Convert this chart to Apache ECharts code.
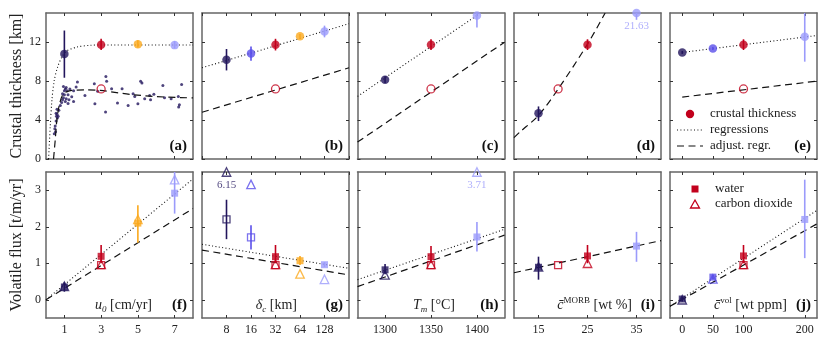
<!DOCTYPE html>
<html>
<head>
<meta charset="utf-8">
<script src="https://cdn.jsdelivr.net/npm/echarts@6/dist/echarts.min.js"></script>
<style>
html, body { margin: 0; padding: 0; background: #fff; }
#chart { width: 830px; height: 343px; }
</style>
</head>
<body>
<div id="chart"></div>
<script>
const NAVY = '#22155c', BLUE = '#5a4fea', RED = '#c2001c', ORANGE = '#fba91d', LAV = '#9b9bfb';
const FONT = '"Liberation Serif", "DejaVu Serif", serif';

// x values of the runs, one list per column
const u0Vals = [1, 3, 5, 7];
const deltaVals = [8, 16, 32, 64, 128];
const tmVals = [1300, 1350, 1400];
const morbVals = [15, 25, 35];
const cvolVals = [0, 50, 100, 200];

// (a)-(e) crustal thickness [km]
const thickU0 = [10.8, 11.75, 11.8, 11.7];
const thickU0Lo = [8.35, 11.2, 11.45, 11.35];
const thickU0Hi = [13.2, 12.35, 12.2, 12.1];
const thickDelta = [10.2, 10.85, 11.75, 12.6, 13.1];
const thickDeltaLo = [9.1, 10.1, 11.15, 12.35, 12.5];
const thickDeltaHi = [11.3, 11.55, 12.35, 12.85, 13.7];
const thickTm = [8.15, 11.75, 14.75];
const thickTmLo = [7.8, 11.2, 13.5];
const thickTmHi = [8.5, 12.3, 16.0];
const thickMorb = [4.7, 11.75, 21.63];
const thickMorbLo = [3.9, 11.2, 14.3];
const thickMorbHi = [5.4, 12.3, 29];
const thickCvol = [10.95, 11.35, 11.75, 12.55];
const thickCvolLo = [10.8, 11.2, 11.2, 10.0];
const thickCvolHi = [11.1, 11.5, 12.3, 15.1];

// adjusted reference thickness (open circles)
const adjThickX = [3, 32, 1350, 19, 100];
const adjThick = [7.2, 7.2, 7.2, 7.2, 7.2];

// (a) individual measurements
const dotsU0 = [0.45, 0.48, 0.5, 0.52, 0.55, 0.57, 0.6, 0.55, 0.62, 0.66, 0.7, 0.6, 0.78, 0.85, 0.9, 0.95, 1.0, 1.0, 1.05, 1.1,
  0.95, 1.15, 1.2, 1.1, 1.05, 1.2, 1.25, 1.4, 1.5, 1.64, 1.71, 1.5, 0.9, 1.3, 2.12, 2.63, 2.66, 2.81, 3.26, 3.3,
  3.24, 3.57, 3.89, 4.14, 4.47, 4.74, 4.83, 5.15, 5.22, 5.0, 5.37, 5.64, 5.69, 5.87, 6.36, 6.45, 6.81, 7.2, 7.26, 7.22, 7.38];
const dotsThick = [2.6, 3.1, 3.4, 2.8, 3.9, 4.4, 4.6, 4.7, 4.2, 4.4, 5.0, 5.1, 5.5, 5.8, 6.1, 6.3, 6.6, 7.0, 7.2, 7.35,
  7.45, 7.0, 6.6, 6.2, 5.9, 5.7, 6.1, 6.4, 7.0, 7.4, 7.9, 5.9, 6.7, 7.2, 6.53, 7.73, 5.68, 6.97, 8.48, 8.0,
  4.82, 7.22, 5.75, 7.22, 5.5, 6.7, 6.43, 8.0, 7.8, 5.68, 6.2, 6.53, 6.09, 6.64, 7.56, 6.3, 6.19, 6.43, 5.58, 5.33, 7.66];

// regressions, top row
const regU0X = [0.14, 0.23, 0.32, 0.45, 0.63, 0.86, 1.13, 1.68, 2.4, 3, 5, 8];
const regU0Y = [0, 3.3, 6.0, 8.07, 9.44, 10.46, 11.1, 11.5, 11.68, 11.72, 11.72, 11.72];
const adjU0X = [0.41, 0.5, 0.59, 0.74, 0.95, 1.4, 2.2, 2.94, 4.74, 6.54, 8];
const adjU0Y = [0, 1.9, 3.97, 5.68, 6.7, 7.05, 7.1, 7.05, 6.6, 6.36, 6.28];
const regDeltaX = [4, 256], regDeltaY = [9.37, 13.9];
const adjDeltaX = [4, 256], adjDeltaY = [4.8, 9.37];
const regTmX = [1270, 1400], regTmY = [6.43, 14.75];
const adjTmX = [1270, 1430], adjTmY = [1.74, 12.0];
const adjMorbX = [10, 11.2, 15, 19, 25, 28.6], adjMorbY = [2.2, 2.77, 4.48, 7.18, 11.8, 15];
const regCvolX = [0, 220], regCvolY = [10.95, 12.69];
const adjCvolX = [0, 220], adjCvolY = [6.36, 8.0];

// (f)-(j) volatile flux [t/m/yr]
const waterU0 = [0.35, 1.19, 2.1, 2.92];
const waterU0Lo = [0.22, 1.0, 1.56, 2.36];
const waterU0Hi = [0.48, 1.5, 2.59, 3.6];
const openU0X = [3], openU0 = [0.95];
const co2U0 = [0.37, 0.97, 2.2, 3.29];

const waterDeltaX = [32, 64, 128];
const waterDelta = [1.18, 1.07, 0.96];
const waterDeltaLo = [1.0, 0.95, 0.9];
const waterDeltaHi = [1.5, 1.2, 1.03];
const openDeltaX = [8, 16, 32], openDelta = [2.2, 1.71, 0.95];
const openDeltaLo = [1.66, 1.38, null], openDeltaHi = [2.74, 2.04, null];
const co2Delta = [6.15, 3.16, 0.97, 0.71, 0.56];

const waterTm = [0.82, 1.18, 1.72];
const waterTmLo = [0.7, 1.0, 1.32];
const waterTmHi = [0.98, 1.47, 2.13];
const openTmX = [1350], openTm = [0.95];
const co2Tm = [0.68, 0.97, 3.71];

const waterMorb = [0.89, 1.2, 1.47];
const waterMorbLo = [0.55, 1.0, 1.04];
const waterMorbHi = [1.18, 1.5, 1.86];
const openMorbX = [19], openMorb = [0.95];
const co2MorbX = [15, 25], co2Morb = [0.9, 1.0];

const waterCvol = [0.02, 0.62, 1.2, 2.2];
const waterCvolLo = [-0.05, 0.56, 1.0, 1.14];
const waterCvolHi = [0.08, 0.68, 1.5, 3.29];
const openCvolX = [100], openCvol = [0.95];
const co2CvolX = [0, 50, 100], co2Cvol = [0.0, 0.57, 0.97];

// regressions, bottom row
const fluxRegU0X = [0, 8], fluxRegU0Y = [0, 3.31];
const fluxAdjU0X = [0, 8], fluxAdjU0Y = [0, 2.5];
const fluxRegDeltaX = [4, 256], fluxRegDeltaY = [1.52, 0.86];
const fluxAdjDeltaX = [4, 256], fluxAdjDeltaY = [1.36, 0.68];
const fluxRegTmX = [1270, 1430], fluxRegTmY = [0.55, 1.93];
const fluxAdjTmX = [1270, 1430], fluxAdjTmY = [0.36, 1.77];
const fluxAdjMorbX = [10, 40], fluxAdjMorbY = [0.74, 1.62];
const fluxRegCvolX = [-20, 220], fluxRegCvolY = [-0.18, 2.45];
const fluxAdjCvolX = [-20, 220], fluxAdjCvolY = [-0.18, 2.08];

// ---------------- layout / styling ----------------
const colX = [u0Vals, deltaVals, tmVals, morbVals, cvolVals];
const colColors = [[NAVY, RED, ORANGE, LAV], [NAVY, BLUE, RED, ORANGE, LAV], [NAVY, RED, LAV], [NAVY, RED, LAV], [NAVY, BLUE, RED, LAV]];
function colorOf(c, x) { const i = colX[c].indexOf(x); return i >= 0 ? colColors[c][i] : RED; }

const colLeft = [46, 202, 357.5, 514, 670];
const W = 147, H = 146, rowTop = [13, 172];
const xCfg = [
  { type: 'value', min: 0, max: 8, ticks: [1, 3, 5, 7] },
  { type: 'log', logBase: 2, min: 4, max: 256 },
  { type: 'value', min: 1270, max: 1430, ticks: [1300, 1350, 1400] },
  { type: 'value', min: 10, max: 40, ticks: [15, 25, 35] },
  { type: 'value', min: -20, max: 220, ticks: [0, 50, 100, 200] }
];
const yCfg = [{ min: 0, max: 15, ticks: [0, 4, 8, 12] }, { min: -0.5, max: 3.5, ticks: [0, 1, 2, 3] }];

const grids = [], xAxes = [], yAxes = [], series = [], graphics = [];

function axisBase(gi, pos, showLabel) {
  return {
    gridIndex: gi, position: pos,
    axisLine: { show: true, onZero: false, lineStyle: { color: '#666', width: 1.5 } },
    axisTick: { show: true, inside: true, length: 3, lineStyle: { color: '#333', width: 1 } },
    axisLabel: { show: showLabel, fontFamily: FONT, fontSize: 12, color: '#222', margin: 6,
      formatter: v => String(v) },
    splitLine: { show: false }
  };
}

for (let r = 0; r < 2; r++) {
  for (let c = 0; c < 5; c++) {
    const gi = r * 5 + c;
    grids.push({ left: colLeft[c], top: rowTop[r], width: W, height: H });
    ['bottom', 'top'].forEach(pos => {
      const a = axisBase(gi, pos, pos === 'bottom' && r === 1);
      const cfg = xCfg[c];
      a.type = cfg.type; a.min = cfg.min; a.max = cfg.max;
      if (cfg.logBase) {
        a.logBase = cfg.logBase;
        a.axisLabel.showMinLabel = false; a.axisLabel.showMaxLabel = false;
      } else {
        a.axisTick.customValues = cfg.ticks;
        a.axisLabel.customValues = cfg.ticks;
      }
      xAxes.push(a);
    });
    ['left', 'right'].forEach(pos => {
      const a = axisBase(gi, pos, pos === 'left' && c === 0);
      const cfg = yCfg[r];
      a.type = 'value'; a.min = cfg.min; a.max = cfg.max;
      a.axisTick.customValues = cfg.ticks;
      a.axisLabel.customValues = cfg.ticks;
      a.axisLabel.margin = 5;
      yAxes.push(a);
    });
  }
}

function lineS(gi, xs, ys, kind, smooth) {
  series.push({
    type: 'line', xAxisIndex: 2 * gi, yAxisIndex: 2 * gi, silent: true, z: 2,
    data: xs.map((x, i) => [x, ys[i]]), showSymbol: false, symbol: 'none', smooth: smooth || false, clip: true,
    lineStyle: kind === 'dot'
      ? { color: '#111', width: 1.1, type: [1, 2.4] }
      : { color: '#111', width: 1.2, type: [7, 4.5] }
  });
}

function errS(gi, c, xs, lo, hi) {
  const data = [];
  xs.forEach((x, i) => {
    if (lo[i] == null) return;
    data.push({ value: [x, lo[i], hi[i]], itemStyle: { color: colorOf(c, x) } });
  });
  series.push({
    type: 'custom', xAxisIndex: 2 * gi, yAxisIndex: 2 * gi, silent: true, z: 3, clip: true,
    encode: { x: 0, y: [1, 2] }, data,
    renderItem: (params, api) => {
      const a = api.coord([api.value(0), api.value(1)]);
      const b = api.coord([api.value(0), api.value(2)]);
      return { type: 'line', shape: { x1: a[0], y1: a[1], x2: b[0], y2: b[1] },
        style: { stroke: api.visual('color'), lineWidth: 1.6 } };
    }
  });
}

function markS(gi, c, xs, ys, symbol, size, open, z, colorFix) {
  const yMax = yCfg[gi < 5 ? 0 : 1].max;
  series.push({
    type: 'scatter', xAxisIndex: 2 * gi, yAxisIndex: 2 * gi, silent: true, z: z, clip: false,
    symbol: symbol, symbolSize: size,
    data: xs.map((x, i) => {
      const col = colorFix || colorOf(c, x);
      const item = {
        value: [x, Math.min(ys[i], yMax)],
        itemStyle: open ? { color: 'rgba(255,255,255,0)', borderColor: col, borderWidth: 1.3 } : { color: col }
      };
      if (ys[i] > yMax) {
        item.label = { show: true, position: 'bottom', distance: 3, formatter: String(ys[i]),
          color: col, fontFamily: FONT, fontSize: 11 };
      }
      return item;
    })
  });
}

// ----- top row -----
const thick = [thickU0, thickDelta, thickTm, thickMorb, thickCvol];
const thickLo = [thickU0Lo, thickDeltaLo, thickTmLo, thickMorbLo, thickCvolLo];
const thickHi = [thickU0Hi, thickDeltaHi, thickTmHi, thickMorbHi, thickCvolHi];

series.push({
  type: 'scatter', xAxisIndex: 0, yAxisIndex: 0, silent: true, z: 1, symbolSize: 3,
  itemStyle: { color: NAVY }, data: dotsU0.map((x, i) => [x, dotsThick[i]])
});
lineS(0, regU0X, regU0Y, 'dot', 0.3);
lineS(0, adjU0X, adjU0Y, 'dash', 0.3);
lineS(1, regDeltaX, regDeltaY, 'dot');
lineS(1, adjDeltaX, adjDeltaY, 'dash');
lineS(2, regTmX, regTmY, 'dot');
lineS(2, adjTmX, adjTmY, 'dash');
lineS(3, adjMorbX, adjMorbY, 'dash', 0.3);
lineS(4, regCvolX, regCvolY, 'dot');
lineS(4, adjCvolX, adjCvolY, 'dash');

for (let c = 0; c < 5; c++) {
  errS(c, c, colX[c], thickLo[c], thickHi[c]);
  markS(c, c, colX[c], thick[c], 'circle', 8.5, false, 4);
  markS(c, c, [adjThickX[c]], [adjThick[c]], 'circle', 8, true, 4, RED);
}

// ----- bottom row -----
lineS(5, fluxRegU0X, fluxRegU0Y, 'dot');
lineS(5, fluxAdjU0X, fluxAdjU0Y, 'dash');
lineS(6, fluxRegDeltaX, fluxRegDeltaY, 'dot');
lineS(6, fluxAdjDeltaX, fluxAdjDeltaY, 'dash');
lineS(7, fluxRegTmX, fluxRegTmY, 'dot');
lineS(7, fluxAdjTmX, fluxAdjTmY, 'dash');
lineS(8, fluxAdjMorbX, fluxAdjMorbY, 'dash');
lineS(9, fluxRegCvolX, fluxRegCvolY, 'dot');
lineS(9, fluxAdjCvolX, fluxAdjCvolY, 'dash');

const bottomSets = [
  { wx: u0Vals, w: waterU0, lo: waterU0Lo, hi: waterU0Hi, ox: openU0X, o: openU0, olo: [null], ohi: [null], tx: u0Vals, t: co2U0 },
  { wx: waterDeltaX, w: waterDelta, lo: waterDeltaLo, hi: waterDeltaHi, ox: openDeltaX, o: openDelta, olo: openDeltaLo, ohi: openDeltaHi, tx: deltaVals, t: co2Delta },
  { wx: tmVals, w: waterTm, lo: waterTmLo, hi: waterTmHi, ox: openTmX, o: openTm, olo: [null], ohi: [null], tx: tmVals, t: co2Tm },
  { wx: morbVals, w: waterMorb, lo: waterMorbLo, hi: waterMorbHi, ox: openMorbX, o: openMorb, olo: [null], ohi: [null], tx: co2MorbX, t: co2Morb },
  { wx: cvolVals, w: waterCvol, lo: waterCvolLo, hi: waterCvolHi, ox: openCvolX, o: openCvol, olo: [null], ohi: [null], tx: co2CvolX, t: co2Cvol }
];
bottomSets.forEach((s, c) => {
  const gi = 5 + c;
  errS(gi, c, s.wx, s.lo, s.hi);
  errS(gi, c, s.ox, s.olo, s.ohi);
  markS(gi, c, s.wx, s.w, 'rect', 7, false, 4);
  markS(gi, c, s.ox, s.o, 'rect', 7, true, 5);
  markS(gi, c, s.tx, s.t, 'triangle', 8.5, true, 6);
});

// ----- texts -----
const labels = ['(a)', '(b)', '(c)', '(d)', '(e)', '(f)', '(g)', '(h)', '(i)', '(j)'];
labels.forEach((t, gi) => {
  const c = gi % 5, r = Math.floor(gi / 5);
  graphics.push({ type: 'text', x: colLeft[c] + W - 6, y: rowTop[r] + H - 13, z: 20,
    style: { text: t, textAlign: 'right', textVerticalAlign: 'middle', fill: '#111',
      font: 'bold 15px ' + FONT } });
});

graphics.push({ type: 'text', x: 17, y: rowTop[0] + H / 2, rotation: Math.PI / 2, z: 20,
  style: { text: 'Crustal thickness [km]', textAlign: 'center', textVerticalAlign: 'middle', fill: '#222', font: '16px ' + FONT } });
graphics.push({ type: 'text', x: 17, y: rowTop[1] + H / 2, rotation: Math.PI / 2, z: 20,
  style: { text: 'Volatile flux [t/m/yr]', textAlign: 'center', textVerticalAlign: 'middle', fill: '#222', font: '16px ' + FONT } });

const richBase = {
  n: { fontSize: 14, fontFamily: FONT, lineHeight: 18, verticalAlign: 'middle' },
  i: { fontSize: 14, fontFamily: FONT, fontStyle: 'italic', lineHeight: 18, verticalAlign: 'middle' },
  s: { fontSize: 9, fontFamily: FONT, fontStyle: 'italic', lineHeight: 10, verticalAlign: 'bottom' },
  p: { fontSize: 9, fontFamily: FONT, lineHeight: 10, verticalAlign: 'top' }
};
const axisTitles = [
  { x: 152, t: '{i|u}{s|0}{n| [cm/yr]}' },
  { x: 297, t: '{i|δ}{s|c}{n| [km]}' },
  { x: 455, t: '{i|T}{s|m}{n| [°C]}' },
  { x: 632, t: '{i|c\u0304}{p|MORB}{n| [wt %]}' },
  { x: 787, t: '{i|c\u0304}{p|vol}{n| [wt ppm]}' }
];
axisTitles.forEach(a => {
  graphics.push({ type: 'text', x: a.x, y: rowTop[1] + H - 13, z: 20,
    style: { text: a.t, textAlign: 'right', textVerticalAlign: 'middle', fill: '#222', font: '14px ' + FONT, rich: richBase } });
});

// legend (e)
const lx = 677, ltx = 710;
graphics.push({ type: 'circle', shape: { cx: 690, cy: 114, r: 4.2 }, style: { fill: RED }, z: 20 });
graphics.push({ type: 'line', shape: { x1: lx, y1: 130, x2: 703, y2: 130 }, style: { stroke: '#111', lineWidth: 1.1, lineDash: [1, 2.4] }, z: 20 });
graphics.push({ type: 'line', shape: { x1: lx, y1: 146, x2: 703, y2: 146 }, style: { stroke: '#111', lineWidth: 1.2, lineDash: [7, 4.5] }, z: 20 });
[['crustal thickness', 114], ['regressions', 130], ['adjust. regr.', 146]].forEach(([t, y]) => {
  graphics.push({ type: 'text', x: ltx, y: y, z: 20,
    style: { text: t, textAlign: 'left', textVerticalAlign: 'middle', fill: '#222', font: '13px ' + FONT } });
});

// legend (j)
graphics.push({ type: 'rect', shape: { x: 691.5, y: 185.5, width: 7, height: 7 }, style: { fill: RED }, z: 20 });
graphics.push({ type: 'polygon', shape: { points: [[695, 200], [699.5, 208], [690.5, 208]] },
  style: { fill: 'none', stroke: RED, lineWidth: 1.3 }, z: 20 });
[['water', 189], ['carbon dioxide', 204]].forEach(([t, y]) => {
  graphics.push({ type: 'text', x: 715, y: y, z: 20,
    style: { text: t, textAlign: 'left', textVerticalAlign: 'middle', fill: '#222', font: '13px ' + FONT } });
});

const chart = echarts.init(document.getElementById('chart'));
chart.setOption({
  animation: false,
  backgroundColor: '#fff',
  grid: grids,
  xAxis: xAxes,
  yAxis: yAxes,
  series: series,
  graphic: { elements: graphics }
});
</script>
</body>
</html>
